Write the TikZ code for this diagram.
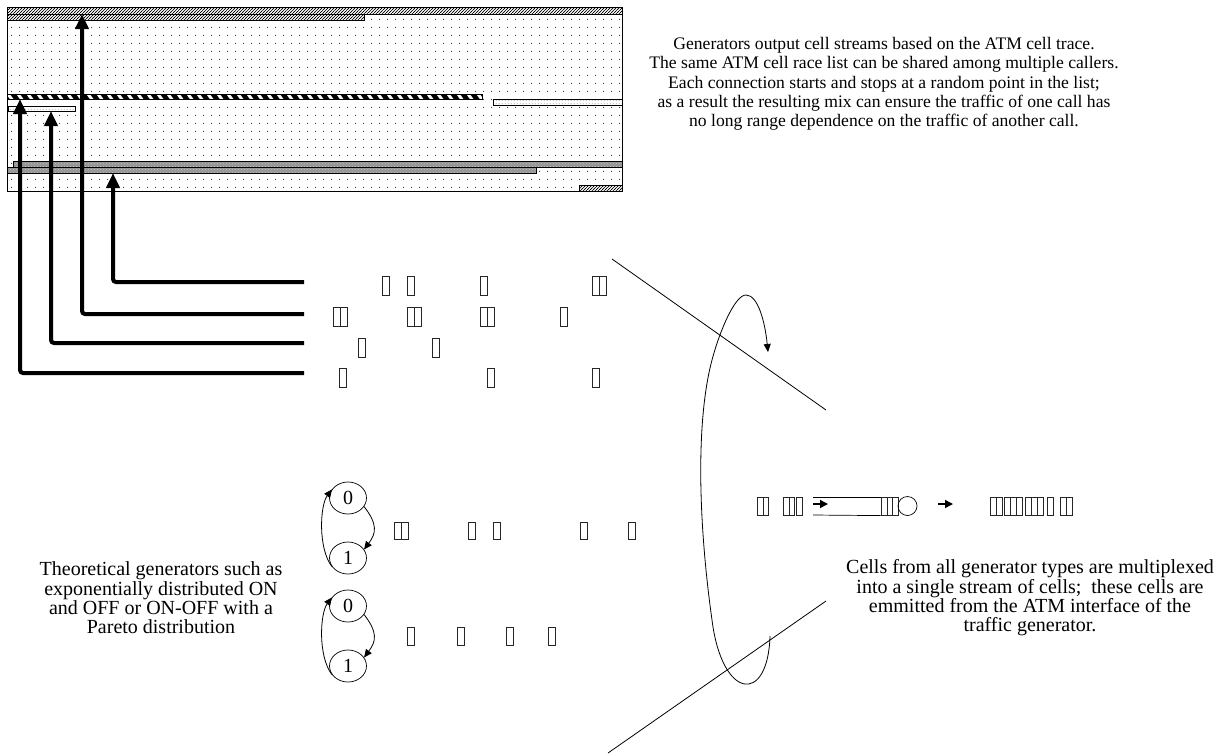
\documentclass[tikz,border=0pt]{standalone}
\usepackage{fontspec}
\setmainfont{Liberation Serif}
\usetikzlibrary{arrows.meta,patterns,shapes.geometric}
\pgfdeclarepatternformonly{sparsedots}{\pgfpointorigin}{\pgfpoint{7.6pt}{7.6pt}}{\pgfpoint{7.6pt}{7.6pt}}{\pgfpathcircle{\pgfpoint{3.8pt}{3.8pt}}{0.55pt}\pgfusepath{fill}}
\pgfdeclarepatternformonly{finedots}{\pgfpointorigin}{\pgfpoint{3pt}{3pt}}{\pgfpoint{3pt}{3pt}}{\pgfpathcircle{\pgfpoint{1.5pt}{1.5pt}}{0.5pt}\pgfusepath{fill}}
\pgfdeclarepatternformonly{hatchlines}{\pgfpoint{-1pt}{-1pt}}{\pgfpoint{4pt}{4pt}}{\pgfpoint{3pt}{3pt}}{\pgfsetlinewidth{0.6pt}\pgfpathmoveto{\pgfpoint{-1pt}{-1pt}}\pgfpathlineto{\pgfpoint{4pt}{4pt}}\pgfusepath{stroke}}
\tikzset{
  cellbox/.style={draw=black!85, line width=0.6pt, minimum width=7pt, minimum height=19pt, inner sep=0pt, anchor=north west},
  smallcell/.style={draw=black!85, line width=0.6pt, minimum width=5.5pt, minimum height=18pt, inner sep=0pt, anchor=north west},
  statenode/.style={draw, ellipse, line width=0.7pt, minimum width=37pt, minimum height=32pt, inner sep=0pt, font=\fontsize{20}{22}\selectfont},
  bigarrow/.style={line width=4pt, rounded corners=3pt, -{Triangle[length=15pt 0 0,width=13pt 0 0]}},
  thinarrow/.style={line width=0.8pt, -{Triangle[length=8pt 0 0,width=7pt 0 0]}},
  smallarrow/.style={line width=1.4pt, -{Triangle[length=8pt 0 0,width=8pt 0 0]}},
  txttop/.style={align=center, font=\fontsize{17.6}{19.3}\selectfont, inner sep=0pt},
  txtbot/.style={align=center, font=\fontsize{20}{19.3}\selectfont, inner sep=0pt},
  bar/.style={line width=0.6pt, draw=black}
}
\begin{document}
\begin{tikzpicture}[x=1pt,y=-1pt]
\useasboundingbox (0,0) rectangle (1225,753);
% ---------- trace box ----------
\fill[white] (7,7) rectangle (622,191);
\fill[pattern=sparsedots, pattern color=black!80] (7,7) rectangle (622,191);
% top hatched bands
\fill[white] (7,7) rectangle (622,14);
\fill[pattern=hatchlines] (7,7) rectangle (622,14);
\draw[bar] (7,7) rectangle (622,14);
\fill[white] (7,14) rectangle (364,20);
\fill[pattern=hatchlines] (7,14) rectangle (364,20);
\draw[bar] (7,14) rectangle (364,20);
% thick striped bar
\begin{scope}
\clip (7,94) rectangle (482,99.5);
\fill[white] (7,94) rectangle (482,99.5);
\foreach \i in {0,10,...,490} \fill[black] (\i,94) -- (\i+6,94) -- (\i+10,99.5) -- (\i+4,99.5) -- cycle;
\end{scope}
\draw[bar] (7,94) rectangle (482,99.5);
% small dotted bars
\fill[white] (8,106) rectangle (75,111.5);
\fill[pattern=finedots, pattern color=black!60] (8,106) rectangle (75,111.5);
\draw[bar] (8,106) rectangle (75,111.5);
\fill[white] (493,99.5) rectangle (622,105);
\fill[pattern=finedots, pattern color=black!60] (493,99.5) rectangle (622,105);
\draw[bar] (493,99.5) rectangle (622,105);
% grey bands
\fill[gray!85] (13,161) rectangle (622,167);
\fill[pattern=crosshatch dots, pattern color=gray!45] (13,161) rectangle (622,167);
\draw[bar] (13,161) rectangle (622,167);
\fill[gray!85] (7,167) rectangle (536,173);
\fill[pattern=crosshatch dots, pattern color=gray!45] (7,167) rectangle (536,173);
\draw[bar] (7,167) rectangle (536,173);
% bottom right hatched
\fill[white] (579,185) rectangle (622,191);
\fill[pattern=hatchlines] (579,185) rectangle (622,191);
\draw[bar] (579,185) rectangle (622,191);
\draw[line width=0.9pt] (7,7) rectangle (622,191);
% ---------- trace cell rows ----------
\foreach \x [count=\i] in {382,407,480,592,599} \node[cellbox] (ra\i) at (\x,276) {};
\foreach \x [count=\i] in {333,340,407,414,480,487,560} \node[cellbox] (rb\i) at (\x,307) {};
\foreach \x [count=\i] in {358,432} \node[cellbox] (rc\i) at (\x,338) {};
\foreach \x [count=\i] in {339,487,592} \node[cellbox] (rd\i) at (\x,368) {};
% arrow start / end points
\coordinate (sa) at (304,282);
\coordinate (sb) at (304,314);
\coordinate (sc) at (304,343);
\coordinate (sd) at (304,373);
\coordinate (ea) at (113,173);
\coordinate (eb) at (82,14);
\coordinate (ec) at (51,111);
\coordinate (ed) at (20,99);
\draw[bigarrow] (sa) -| (ea);
\draw[bigarrow] (sb) -| (eb);
\draw[bigarrow] (sc) -| (ec);
\draw[bigarrow] (sd) -| (ed);
% ---------- text ----------
\node[txttop] (ttop) at (884,84) {Generators output cell streams based on the ATM cell trace.\\The same ATM cell race list can be shared among multiple callers.\\Each connection starts and stops at a random point in the list;\\as a result the resulting mix can ensure the traffic of one call has\\no long range dependence on the traffic of another call.};
\node[txtbot] (tleft) at (161,598) {Theoretical generators such as\\exponentially distributed ON\\and OFF or ON-OFF with a\\Pareto distribution};
\node[txtbot] (tright) at (1030,598) {Cells from all generator types are multiplexed\\into a single stream of cells;~ these cells are\\emmitted from the ATM interface of the\\traffic generator.};
% ---------- state machines ----------
\node[statenode] (a0) at (348,498) {0};
\node[statenode] (a1) at (348,558) {1};
\draw[thinarrow] (a0.-28) .. controls +(14,18) and +(12,-16) .. (a1.28);
\draw[thinarrow] (a1.-152) .. controls +(-14,-18) and +(-12,16) .. (a0.152);
\node[statenode] (b0) at (348,606) {0};
\node[statenode] (b1) at (348,666) {1};
\draw[thinarrow] (b0.-28) .. controls +(14,18) and +(12,-16) .. (b1.28);
\draw[thinarrow] (b1.-152) .. controls +(-14,-18) and +(-12,16) .. (b0.152);
\foreach \x [count=\i] in {394,401,468,493,580,628} \node[cellbox, minimum height=17pt] (ca\i) at (\x,522) {};
\foreach \x [count=\i] in {407,457,506,548} \node[cellbox, minimum height=18pt] (cb\i) at (\x,627) {};
% ---------- multiplexer ----------
\foreach \x [count=\i] in {757,762.5,783,788.5,796} \node[smallcell] (qa\i) at (\x,497) {};
\coordinate (qtl) at (813,497);
\coordinate (qbl) at (813,515);
\foreach \x [count=\i] in {881,886.5,892} \node[smallcell] (qb\i) at (\x,497) {};
\draw[line width=0.7pt] (qtl) -- (qb1.north west);
\draw[line width=0.7pt] (qbl) -- (qb1.south west);
\coordinate (qas) at (813,504);
\coordinate (qae) at (828,504);
\draw[smallarrow] (qas) -- (qae);
\node[draw, circle, line width=0.7pt, minimum size=19pt, inner sep=0pt] (srv) at (907.5,506) {};
\coordinate (oas) at (938,504);
\coordinate (oae) at (953,504);
\draw[smallarrow] (oas) -- (oae);
\foreach \x [count=\i] in {990,996,1004,1010,1016,1025,1031,1037,1047,1060,1066} \node[smallcell, minimum width=6pt] (oc\i) at (\x,497) {};
% ---------- loop and lines ----------
\coordinate (la) at (612,259);
\coordinate (lb) at (826,410);
\draw[line width=0.8pt] (la) -- (lb);
\coordinate (lc) at (608,753);
\coordinate (ld) at (826,601);
\draw[line width=0.8pt] (lc) -- (ld);
\coordinate (ls) at (770,636);
\coordinate (lt) at (768,352);
\draw[thinarrow] (ls) .. controls (768,705) and (722,700) .. (712,620)
  .. controls (698,520) and (696,420) .. (712,360)
  .. controls (720,330) and (735,295) .. (746,295)
  .. controls (758,295) and (765,322) .. (lt);
\end{tikzpicture}
\end{document}
